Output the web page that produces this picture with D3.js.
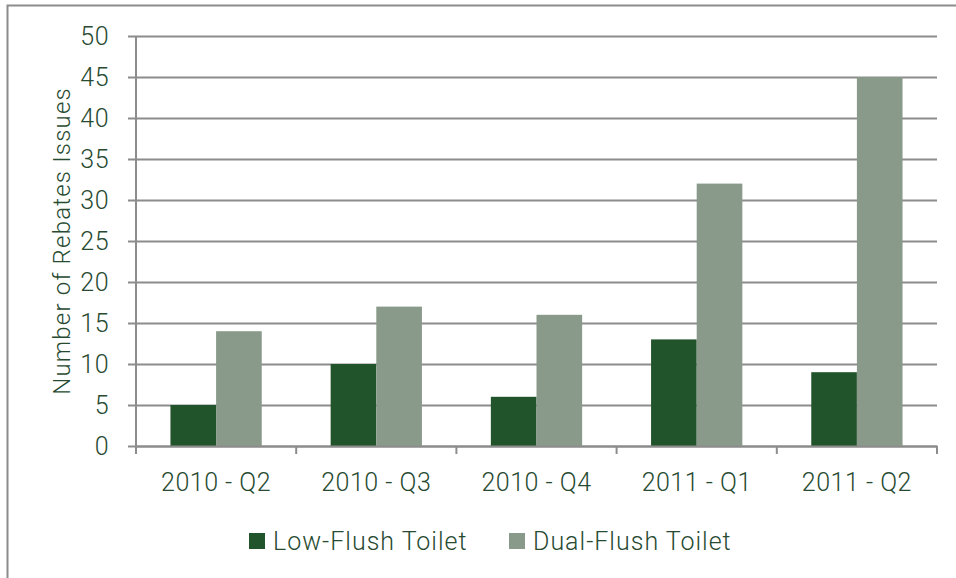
<!DOCTYPE html>
<html>
<head>
<meta charset="utf-8">
<script src="https://cdn.jsdelivr.net/npm/d3@7"></script>
<style>
  body { margin: 0; background: #fff; }
  text { font-family: Roboto, "Noto Sans", sans-serif; font-weight: 300; fill: #274a31; }
</style>
</head>
<body>
<svg id="chart"></svg>
<script>
var svgWidth = 956;
var svgHeight = 578;

var quarters = ["2010 - Q2", "2010 - Q3", "2010 - Q4", "2011 - Q1", "2011 - Q2"];
var seriesNames = ["Low-Flush Toilet", "Dual-Flush Toilet"];
var lowFlush = [5, 10, 6, 13, 9];
var dualFlush = [14, 17, 16, 32, 45];
var yTicks = [0, 5, 10, 15, 20, 25, 30, 35, 40, 45, 50];
var colors = ["#22542b", "#8a9a8a"];

var margin = { top: 36, right: 19, bottom: 132, left: 136 };
var width = svgWidth - margin.left - margin.right;
var height = svgHeight - margin.top - margin.bottom;

var svg = d3.select("#chart")
  .attr("width", svgWidth)
  .attr("height", svgHeight);

// outer frame (only left and top edges visible)
svg.append("path")
  .attr("d", "M7.5," + svgHeight + " V5.5 H" + svgWidth)
  .attr("fill", "none")
  .attr("stroke", "#8c8c8c")
  .attr("stroke-width", 2);

var g = svg.append("g")
  .attr("transform", "translate(" + margin.left + "," + margin.top + ")");

var x0 = d3.scaleBand().domain(quarters).range([0, width]).padding(0);
var x1 = d3.scaleBand().domain(seriesNames).range([0, x0.bandwidth()])
  .paddingInner(0).paddingOuter(0.755);
var y = d3.scaleLinear().domain([0, 50]).range([height, 0]);

// gridlines + y axis
var yAxis = g.append("g")
  .call(d3.axisLeft(y).tickValues(yTicks).tickSize(-width - 8).tickPadding(19));
yAxis.select(".domain").remove();
yAxis.selectAll(".tick line")
  .attr("x1", -8)
  .attr("x2", width)
  .attr("stroke", "#8c8c8c")
  .attr("stroke-width", 2);
yAxis.selectAll(".tick text")
  .attr("x", -27)
  .style("font-size", "25px")
  .style("letter-spacing", "0.5px");

// bars
var rows = quarters.map(function(q, i) {
  return { q: q, values: [lowFlush[i], dualFlush[i]] };
});

g.append("g").selectAll("g")
  .data(rows)
  .enter().append("g")
  .attr("transform", function(d) { return "translate(" + x0(d.q) + ",0)"; })
  .selectAll("rect")
  .data(function(d) { return d.values.map(function(v, k) { return { key: seriesNames[k], v: v, k: k }; }); })
  .enter().append("rect")
  .attr("x", function(d) { return x1(d.key); })
  .attr("y", function(d) { return y(d.v); })
  .attr("width", x1.bandwidth())
  .attr("height", function(d) { return height - y(d.v); })
  .attr("fill", function(d) { return colors[d.k]; });

// vertical axis line
g.append("line")
  .attr("x1", 0).attr("x2", 0)
  .attr("y1", 0).attr("y2", height)
  .attr("stroke", "#8c8c8c")
  .attr("stroke-width", 2);

// x axis
var xAxis = g.append("g")
  .attr("transform", "translate(0," + height + ")")
  .call(d3.axisBottom(x0).tickSize(0).tickPadding(27));
xAxis.select(".domain")
  .attr("stroke", "#8c8c8c")
  .attr("stroke-width", 2);
xAxis.selectAll(".tick text")
  .style("font-size", "25px")
  .style("letter-spacing", "0.5px");

// category boundary ticks
var bounds = quarters.map(function(q) { return x0(q); }).concat([width]);
xAxis.selectAll(".bound")
  .data(bounds)
  .enter().append("line")
  .attr("class", "bound")
  .attr("x1", function(d) { return d; })
  .attr("x2", function(d) { return d; })
  .attr("y1", 0).attr("y2", 8)
  .attr("stroke", "#8c8c8c")
  .attr("stroke-width", 2);

// y title
svg.append("text")
  .attr("transform", "translate(70," + (margin.top + height / 2) + ") rotate(-90)")
  .attr("text-anchor", "middle")
  .style("font-size", "24px")
  .style("letter-spacing", "1.2px")
  .text("Number of Rebates Issues");

// legend
var legendX = [249, 509];
var legend = svg.append("g").selectAll("g")
  .data(seriesNames)
  .enter().append("g")
  .attr("transform", function(d, i) { return "translate(" + legendX[i] + ",533)"; });
legend.append("rect")
  .attr("width", 16).attr("height", 16)
  .attr("fill", function(d, i) { return colors[i]; });
legend.append("text")
  .attr("x", 24).attr("y", 17)
  .style("font-size", "25px")
  .style("letter-spacing", "1px")
  .text(function(d) { return d; });
</script>
</body>
</html>
